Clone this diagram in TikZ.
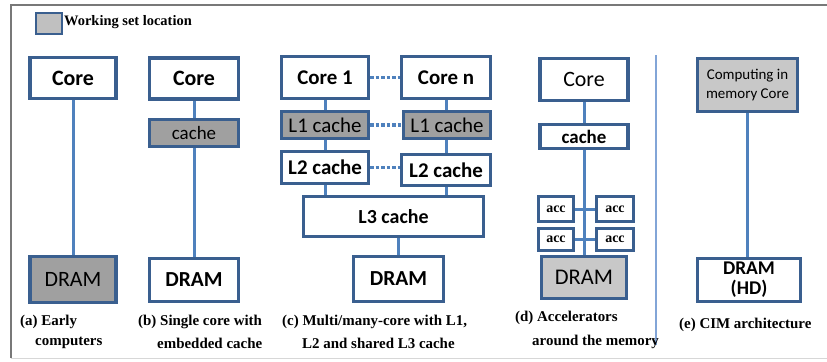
\documentclass[tikz,border=0pt]{standalone}
\usepackage{fontspec}
\newfontfamily\carl{Carlito}
\newfontfamily\tms{Liberation Serif}
\definecolor{boxblue}{RGB}{58,95,143}
\definecolor{lineblue}{RGB}{79,129,189}
\definecolor{sepblue}{RGB}{130,165,215}
\definecolor{gdark}{RGB}{160,160,160}
\definecolor{glight}{RGB}{200,200,200}
\definecolor{glegend}{RGB}{192,192,192}
\definecolor{framegray}{RGB}{120,120,120}
\definecolor{framelight}{RGB}{215,215,215}
\tikzset{
  box/.style={draw=boxblue, line width=3.4bp, fill=white, inner sep=0pt, align=center, font=\carl\fontsize{20}{22}\selectfont},
  boldbox/.style={box, font=\carl\bfseries\fontsize{20}{22}\selectfont},
  conn/.style={draw=lineblue, line width=3bp},
  dotconn/.style={draw=lineblue, line width=3.2bp, dash pattern=on 3.5bp off 2bp},
  captxt/.style={inner sep=0pt, anchor=west, font=\tms\bfseries\fontsize{15}{17}\selectfont},
  accbox/.style={boldbox, font=\tms\bfseries\fontsize{14}{15}\selectfont},
}
\begin{document}
\begin{tikzpicture}[x=1bp,y=-1bp]
\useasboundingbox (0,0) rectangle (827,361);
% frame
\draw[framegray, line width=1.2bp] (11,358) -- (11,5) -- (827,5);
\draw[framelight, line width=1bp] (11,358) -- (827,358);
% separator
\draw[sepblue, line width=2bp] (656,55) -- (656,345);
% legend
\node[draw=boxblue, line width=2.8bp, fill=glegend, minimum width=26bp, minimum height=21bp, inner sep=0pt] (leg) at (49,23.5) {};
\node[inner sep=0pt, anchor=west, font=\tms\bfseries\fontsize{14.5}{16}\selectfont] (legtxt) at (64,22) {Working set location};

% (a)
\node[boldbox, minimum width=86bp, minimum height=41bp, font=\carl\bfseries\fontsize{22}{24}\selectfont] (acore) at (73,78) {Core};
\node[box, fill=gdark, minimum width=86bp, minimum height=46bp, font=\carl\fontsize{22}{24}\selectfont] (adram) at (73,279.5) {DRAM};
\draw[conn] (acore.south) -- (adram.north);
\node[captxt] (acap1) at (20,322) {(a) Early};
\node[captxt] (acap2) at (35,343) {computers};

% (b)
\node[boldbox, minimum width=89bp, minimum height=41bp, font=\carl\bfseries\fontsize{22}{24}\selectfont] (bcore) at (194,78.5) {Core};
\node[box, fill=gdark, minimum width=89bp, minimum height=27bp, font=\carl\fontsize{19}{20}\selectfont] (bcache) at (194,133) {cache};
\node[boldbox, minimum width=89bp, minimum height=43bp, font=\carl\bfseries\fontsize{21.5}{22}\selectfont] (bdram) at (194,280) {DRAM};
\draw[conn] (bcore.south) -- (bcache.north);
\draw[conn] (bcache.south) -- (bdram.north);
\node[captxt] (bcap1) at (138,322) {(b) Single core with};
\node[captxt] (bcap2) at (157,343) {embedded cache};

% (c)
\node[boldbox, minimum width=87bp, minimum height=42bp, font=\carl\bfseries\fontsize{21}{22}\selectfont] (ccore1) at (325,77.5) {Core 1};
\node[boldbox, minimum width=89bp, minimum height=42bp, font=\carl\bfseries\fontsize{21}{22}\selectfont] (ccoren) at (446,77.5) {Core n};
\node[box, fill=gdark, minimum width=87bp, minimum height=27bp, font=\carl\fontsize{21}{22}\selectfont] (cl1a) at (325,125) {L1 cache};
\node[box, fill=gdark, minimum width=87bp, minimum height=27bp, font=\carl\fontsize{21}{22}\selectfont] (cl1b) at (447,125) {L1 cache};
\node[boldbox, minimum width=87bp, minimum height=32bp, font=\carl\bfseries\fontsize{21}{22}\selectfont] (cl2a) at (325,167.5) {L2 cache};
\node[boldbox, minimum width=89bp, minimum height=31bp, font=\carl\bfseries\fontsize{21}{22}\selectfont] (cl2b) at (446,170) {L2 cache};
\node[boldbox, minimum width=180bp, minimum height=40bp] (cl3) at (393.5,216.5) {L3 cache};
\node[boldbox, minimum width=90bp, minimum height=45bp, font=\carl\bfseries\fontsize{21.5}{22}\selectfont] (cdram) at (398.5,279) {DRAM};
\draw[conn] (ccore1.south) -- (cl1a.north);
\draw[conn] (cl1a.south) -- (cl2a.north);
\draw[conn] (ccoren.south) -- (cl1b.north -| ccoren.south);
\draw[conn] (cl1b.south -| ccoren.south) -- (cl2b.north -| ccoren.south);
\draw[conn] (cl2a.south) -- (cl2a.south |- cl3.north);
\draw[conn] (cl2b.south) -- (cl2b.south |- cl3.north);
\draw[conn] (cl3.south -| cdram.north) -- (cdram.north);
\draw[dotconn] (ccore1.east) -- (ccoren.west);
\draw[dotconn] (cl1a.east) -- (cl1b.west);
\draw[dotconn] (cl2a.east) -- (cl2a.east -| cl2b.west);
\node[captxt] (ccap1) at (282,322) {(c) Multi/many-core with L1,};
\node[captxt] (ccap2) at (302,343) {L2 and shared L3 cache};

% (d)
\node[box, minimum width=88bp, minimum height=42bp, font=\carl\fontsize{22}{24}\selectfont] (dcore) at (584,79.5) {Core};
\node[boldbox, minimum width=88bp, minimum height=24bp, font=\carl\bfseries\fontsize{19}{20}\selectfont] (dcache) at (584,136.5) {cache};
\node[box, fill=glight, minimum width=85bp, minimum height=42bp, font=\carl\fontsize{22.5}{24}\selectfont] (ddram) at (584,277.5) {DRAM};
\draw[conn] (dcore.south) -- (dcache.north);
\draw[conn] (dcache.south) -- (ddram.north);
\node[accbox, minimum width=35bp, minimum height=25bp] (acc1) at (556,209) {acc};
\node[accbox, minimum width=37bp, minimum height=25bp] (acc2) at (615,209) {acc};
\node[accbox, minimum width=35bp, minimum height=22bp] (acc3) at (556,239.5) {acc};
\node[accbox, minimum width=37bp, minimum height=22bp] (acc4) at (615,239.5) {acc};
\draw[conn] (acc1.east) -- (acc1.east -| dcache.south);
\draw[conn] (acc2.west) -- (acc2.west -| dcache.south);
\draw[conn] (acc3.east) -- (acc3.east -| dcache.south);
\draw[conn] (acc4.west) -- (acc4.west -| dcache.south);
\node[captxt] (dcap1) at (515,318) {(d) Accelerators};
\node[captxt] (dcap2) at (532,342) {around the memory};

% (e)
\node[box, fill=glight, minimum width=100bp, minimum height=53bp, font=\carl\fontsize{15}{19}\selectfont] (ecim) at (747.5,85) {Computing in\\memory Core};
\node[boldbox, minimum width=103bp, minimum height=43bp, font=\carl\bfseries\fontsize{19.5}{20}\selectfont] (edram) at (749,280) {DRAM\\(HD)};
\draw[conn] (ecim.south) -- (ecim.south |- edram.north);
\node[captxt] (ecap) at (679,325) {(e) CIM architecture};
\end{tikzpicture}
\end{document}
